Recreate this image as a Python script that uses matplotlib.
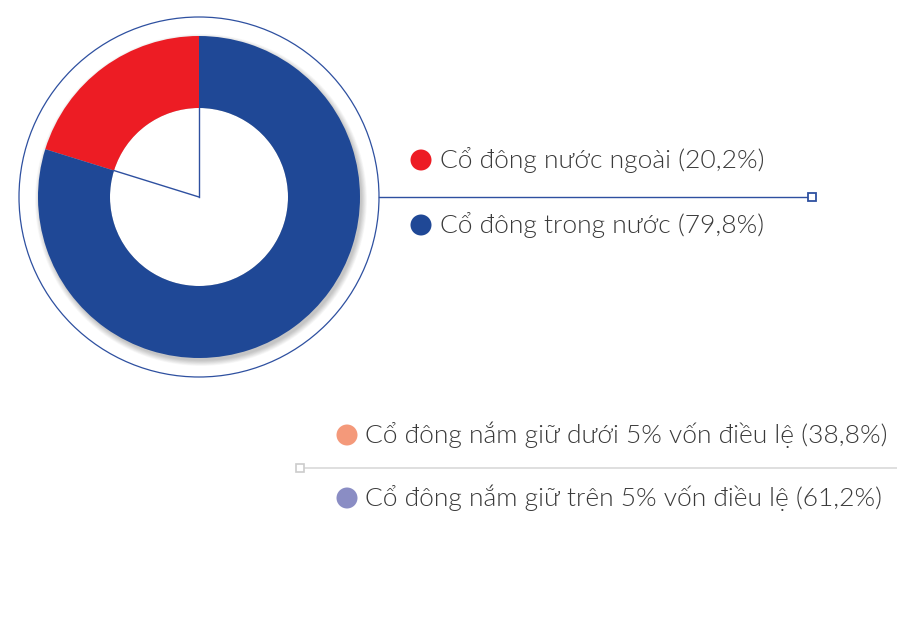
import matplotlib
matplotlib.use("Agg")
import matplotlib.pyplot as plt
from matplotlib.patches import Circle
import numpy as np

plt.rcParams['font.family'] = ['Lato', 'DejaVu Sans']

# chart data
pie_labels = ["Cổ đông nước ngoài", "Cổ đông trong nước"]
pie_values = [20.2, 79.8]
pie_colors = ["#ED1C24", "#1F4896"]

other_labels = ["Cổ đông nắm giữ dưới 5% vốn điều lệ", "Cổ đông nắm giữ trên 5% vốn điều lệ"]
other_values = [38.8, 61.2]
other_colors = ["#F4997A", "#8A8DC4"]

W, H = 897, 644


def fmt(v):
    return f"({v:.1f}%)".replace(".", ",")


def main():
    fig = plt.figure(figsize=(W / 100, H / 100), dpi=100)
    ax = fig.add_axes([0, 0, 1, 1])

    cx, cy = 199, H - 197
    r_out, r_in = 161, 89

    # soft shadow behind the donut
    for i in range(10):
        ax.add_patch(Circle((cx + 2, cy - 3), r_out + 5 - i * 0.6,
                            color="black", alpha=0.025, lw=0, zorder=1))
    ax.add_patch(Circle((cx, cy), r_in, color="white", lw=0, zorder=1.5))

    wedges, _ = ax.pie(pie_values, colors=pie_colors, startangle=90,
                       counterclock=True, center=(cx, cy), radius=r_out,
                       wedgeprops=dict(width=r_out - r_in, lw=0))
    for w in wedges:
        w.set_zorder(2)
    ax.set_xlim(0, W)
    ax.set_ylim(0, H)
    ax.set_aspect("equal")
    ax.axis("off")

    # outer thin ring
    ax.add_patch(Circle((cx, cy), 180, fill=False, ec="#2E50A0", lw=0.9, zorder=3))

    # spokes in the hole
    a2 = np.deg2rad(90 + pie_values[0] / 100 * 360)
    ax.plot([cx, cx], [cy, cy + r_in], color="#2E50A0", lw=1, zorder=3)
    ax.plot([cx, cx + r_in * np.cos(a2)], [cy, cy + r_in * np.sin(a2)],
            color="#2E50A0", lw=1, zorder=3)

    # connector line to legend
    ax.plot([379, 812], [H - 197, H - 197], color="#2E50A0", lw=1, zorder=3)
    ax.plot([812], [H - 197], marker="s", ms=6, mfc="white", mec="#2E50A0",
            mew=1.3, zorder=4)

    # upper legend
    for i, (lab, v, c) in enumerate(zip(pie_labels, pie_values, pie_colors)):
        y = H - (160 + 65 * i)
        ax.add_patch(Circle((421, y), 10.5, color=c, lw=0, zorder=4))
        ax.text(440, y, f"{lab} {fmt(v)}", fontsize=19, color="#3A3A3A",
                va="center", ha="left", fontweight=300)

    # lower legend
    ax.plot([300, 897], [H - 468, H - 468], color="#D9D9D9", lw=1.2, zorder=3)
    ax.plot([300], [H - 468], marker="s", ms=6, mfc="white", mec="#CCCCCC",
            mew=1.2, zorder=4)
    for i, (lab, v, c) in enumerate(zip(other_labels, other_values, other_colors)):
        y = H - (435 + 63 * i)
        ax.add_patch(Circle((347, y), 10.5, color=c, lw=0, zorder=4))
        ax.text(365, y, f"{lab} {fmt(v)}", fontsize=19, color="#3A3A3A",
                va="center", ha="left", fontweight=300)

    fig.savefig("out.png", dpi=100)


if __name__ == "__main__":
    main()
